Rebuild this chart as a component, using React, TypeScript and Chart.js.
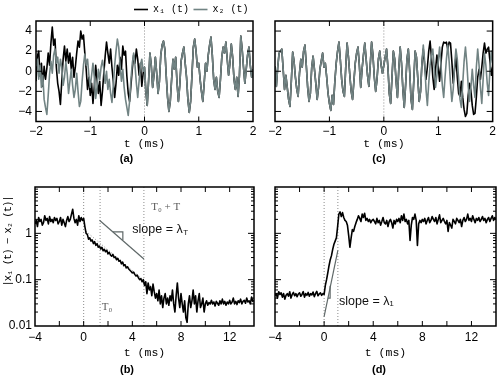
import React, { useEffect, useRef } from 'react';
import { Chart, registerables } from 'chart.js';
Chart.register(...registerables);

const SANS = '"Liberation Sans", Arial, Helvetica, sans-serif';
const MONO = '"Liberation Mono", "DejaVu Sans Mono", monospace';
const SERIF = '"Liberation Serif", "DejaVu Serif", serif';
const INK = '#000000';
const GRAY = '#718383';
const DOT = '#8c8c8c';
const GUIDE = '#5f6868';

// ---------- time bases ----------
const A_START = -2;
const A_STEP = 0.025;
const B_START = -4;
const B_STEP = 0.1;

// ---------- panel (a): x1 (black) and x2 (gray), t = -2 .. 2 ms ----------
const aX1 = [
  -1.0, 1.5, 2.0, -0.5, 0.8, -1.5, 0.5, -0.8, 0.3, 1.8,
  0.6, 2.8, 4.4, 2.6, 3.2, 0.4, -1.2, -2.0, -3.3, -1.0,
  1.2, 2.5, 1.0, 2.2, 0.8, 1.8, 0.2, 1.4, -0.6, 0.4,
  1.8, 3.0, 2.4, 4.0, 3.2, 3.6, 1.8, 0.2, -1.8, -0.6,
  -2.4, -1.2, -3.2, -1.5, 0.6, -0.8, -2.2, -1.0, -3.4, -2.0,
  -0.2, 1.5, 2.9, 1.8, 0.8, 2.2, 0.4, -1.0, -2.6, -1.2,
  0.6, -0.4, 1.4, 0.2, 2.5, 1.6, 2.0, -0.5, -2.2, -3.0,
  -1.4, 0.2, 1.6, 0.8, 2.2, 1.2, -0.4, 0.8, -1.5, -0.2,
  0.4, -2.0, -3.4, -1.0, 1.8, 0.6, -1.6, -0.4, 1.4, -0.2,
  -2.2, -1.0, 1.6, 2.6, 3.0, 2.2, -0.4, -2.6, -4.0, -3.0,
  -0.8, 1.2, 0.2, 1.4, -1.2, -3.0, -1.4, 1.0, 1.8, 2.4,
  0.8, -0.6, -2.8, -4.1, -3.0, -0.4, 2.4, 3.2, 2.0, 0.4,
  0.8, -0.8, -2.0, -3.0, -1.2, 0.8, 0.0, 1.6, 2.6, 3.4,
  1.6, -0.8, -1.8, -0.6, -2.0, -2.6, -0.8, 1.4, 2.4, 1.8,
  2.9, 1.2, -0.4, 0.8, 2.7, 1.4, -0.8, -1.8, -0.6, -2.5,
  -0.4, 3.5, 2.2, 0.4, -1.2, 0.2, 1.6, 2.4, 0.6, -0.6,
  0.2,
];
// x2 before t = 0 (after t = 0 it follows x1: synchronised)
const aX2Pre = [
  0.5, 1.2, -0.8, 0.6, -1.6, -0.4, -2.8, -3.6, -4.3, -2.4,
  -0.3, 1.0, -0.2, 1.6, 2.2, 0.8, 1.4, -0.2, 1.2, 0.4,
  -1.4, -0.6, 0.9, -0.2, -2.2, -1.0, 0.2, -1.4, -2.6, -1.8,
  -0.2, -2.0, -3.5, -3.0, -1.0, 0.6, 1.7, 0.6, 1.2, -0.4,
  -1.6, -0.4, 0.8, -0.6, -2.7, -1.6, 0.2, -0.8, 0.4, 1.1,
  0.2, -1.2, 0.0, -1.8, -0.8, -2.2, -3.1, -1.4, 0.6, 2.0,
  3.2, 2.4, 0.6, -1.0, 0.2, -1.6, -2.8, -3.6, -4.4, -3.0,
  -0.8, 0.8, 1.8, 0.6, -1.2, -2.6, -1.0, 0.6, 1.2, 0.0,
];

// ---------- panel (c): x2 (gray) full, x1 (black) diverges after ~0.7 ms ----------
const cX2 = [
  0.5, -1.5, 0.4, 1.8, 2.0, 2.2, 0.2, -1.8, -0.4, -1.6,
  -2.8, -3.5, -1.0, 1.9, 1.0, -0.6, -1.8, -2.5, -0.2, 1.2,
  0.4, 2.0, 2.6, 0.6, -1.6, -3.0, -2.2, 0.4, 1.5, 0.2,
  -1.2, -2.8, -1.6, 0.2, 1.0, 1.8, 0.4, 0.8, -0.6, -2.2,
  -3.2, -3.9, -2.4, -3.3, -1.0, 0.8, 2.0, 2.9, 1.2, -0.8,
  -2.0, -2.5, 0.4, 2.8, 1.4, -0.4, -2.0, -2.8, -1.0, 0.8,
  1.8, 2.4, 0.6, -1.6, 0.2, 1.6, 2.8, 1.2, -0.4, -1.5,
  0.6, 2.9, 1.6, -0.6, -2.0, -0.8, 1.2, 2.0, 0.6, -0.2,
  0.6, 1.4, 2.2, 0.4, -2.2, -3.2, -0.6, 2.0, 1.2, -1.0,
  -2.6, 0.2, 2.4, 0.8, -1.8, -3.6, -1.4, 1.2, 2.2, 0.0,
  -2.8, -3.8, -1.0, 2.0, 1.4, -0.8, -3.0, -2.0, 0.8, 2.6,
  1.0, -1.8, -3.4, -1.2, 0.6, 1.6, 2.2, 0.4, -1.6, -0.4,
  1.0, 2.4, 0.6, -1.4, -2.6, -0.6, 1.2, 2.6, 1.0, -1.2,
  -3.0, -1.8, 0.6, 2.2, 1.2, -0.8, -2.8, -3.6, -1.2, 1.0,
  2.4, 0.8, -1.4, -3.0, -1.6, 0.2, -1.4, -2.6, 0.4, 2.2,
  0.6, -1.6, -3.2, -0.8, 1.8, 0.6, -1.2, -2.4, 0.2, 2.0,
  0.8,
];
const C_SPLIT = 109; // index of t = 0.725 ms, where x1 leaves x2
const cX1Tail = [
  2.2, 0.6, -0.8, 0.4, 2.0, 3.0, 1.4, -0.6, -1.8, 0.2,
  1.6, 0.4, -1.0, 0.8, 2.4, 2.9, 2.8, 2.9, 2.2, 2.9,
  2.8, 1.0, -1.2, 0.2, 1.4, -0.6, -2.2, -2.5, -1.0, -2.6,
  -3.8, -4.5, -4.2, -2.4, -1.2, -1.9, -3.4, -4.3, -4.2, -2.6,
  -0.6, 0.2, -0.8, 0.4, 1.8, 2.8, 1.8, 2.2, 2.4, 1.0,
  -0.4, 0.4,
];

// ---------- panel (b): |x1 - x2|, t = -4 .. 14 ms ----------
const bDiff = [
  1.6, 1.9, 1.4, 2.2, 1.8, 2.0, 1.5, 1.7, 2.4, 1.9,
  2.1, 1.6, 2.3, 1.8, 2.0, 1.7, 2.2, 1.9, 2.1, 1.6,
  1.8, 2.2, 1.5, 2.0, 1.7, 1.4, 1.9, 2.3, 1.8, 2.0,
  2.6, 3.3, 2.1, 1.7, 2.0, 1.5, 2.4, 1.8, 2.2, 1.9,
  2.1, 1.4, 1.0, 0.95, 0.75, 0.8, 0.68, 0.72, 0.6, 0.66,
  0.55, 0.6, 0.5, 0.53, 0.46, 0.5, 0.42, 0.45, 0.4, 0.43,
  0.36, 0.39, 0.34, 0.32, 0.35, 0.3, 0.31, 0.27, 0.29, 0.25,
  0.26, 0.22, 0.24, 0.2, 0.21, 0.18, 0.19, 0.17, 0.16, 0.15,
  0.14, 0.145, 0.13, 0.12, 0.125, 0.11, 0.1, 0.105, 0.09, 0.1,
  0.075, 0.09, 0.05, 0.085, 0.06, 0.07, 0.045, 0.08, 0.055, 0.04,
  0.05, 0.035, 0.06, 0.03, 0.045, 0.025, 0.04, 0.05, 0.03, 0.04,
  0.028, 0.045, 0.035, 0.06, 0.03, 0.02, 0.045, 0.085, 0.04, 0.025,
  0.05, 0.03, 0.02, 0.035, 0.015, 0.012, 0.03, 0.045, 0.025, 0.035,
  0.06, 0.03, 0.045, 0.02, 0.035, 0.05, 0.025, 0.03, 0.04, 0.02,
  0.03, 0.035, 0.028, 0.032, 0.03, 0.036, 0.03, 0.033, 0.027, 0.034,
  0.031, 0.028, 0.035, 0.03, 0.038, 0.03, 0.034, 0.028, 0.033, 0.03,
  0.036, 0.03, 0.033, 0.04, 0.03, 0.034, 0.029, 0.035, 0.032, 0.038,
  0.03, 0.034, 0.036, 0.031, 0.04, 0.033, 0.035, 0.03, 0.042, 0.034,
  0.036,
];

// ---------- panel (d): |x1 - x2|, t = -4 .. 14 ms ----------
const dDiff = [
  0.045, 0.05, 0.04, 0.055, 0.048, 0.052, 0.042, 0.05, 0.038, 0.046,
  0.05, 0.044, 0.055, 0.04, 0.048, 0.053, 0.045, 0.05, 0.043, 0.049,
  0.052, 0.044, 0.048, 0.055, 0.042, 0.05, 0.046, 0.053, 0.044, 0.05,
  0.047, 0.054, 0.043, 0.05, 0.056, 0.045, 0.049, 0.052, 0.046, 0.05,
  0.048, 0.075, 0.1, 0.14, 0.2, 0.27, 0.33, 0.45, 0.58, 0.68,
  0.8, 1.4, 2.6, 2.9, 2.3, 2.8, 2.2, 1.9, 1.8, 1.5,
  0.9, 0.5, 0.8, 1.2, 1.1, 1.4, 1.7, 2.0, 2.4, 2.1,
  1.8, 2.6, 2.2, 2.7, 1.9, 2.1, 1.8, 2.0, 1.7, 1.9,
  2.0, 1.8, 1.6, 2.1, 1.7, 1.9, 1.5, 1.8, 2.2, 1.7,
  1.6, 1.9, 1.4, 1.8, 2.0, 1.7, 1.3, 1.9, 1.6, 2.0,
  1.8, 2.1, 1.7, 2.4, 1.9, 2.6, 1.8, 2.0, 1.6, 1.9,
  0.7, 1.5, 2.2, 2.0, 2.6, 1.9, 0.55, 1.6, 1.9, 1.7,
  2.0, 1.8, 2.1, 1.6, 1.9, 2.2, 1.7, 1.9, 2.3, 2.0,
  1.8, 2.2, 1.6, 2.0, 2.5, 1.7, 1.9, 2.1, 1.8, 1.6,
  1.9, 1.1, 1.7, 1.5, 1.3, 2.0, 1.8, 1.6, 2.1, 1.9,
  1.7, 2.0, 1.4, 1.9, 2.2, 1.8, 2.0, 2.6, 1.9, 2.1,
  1.8, 2.4, 2.0, 1.7, 2.1, 1.9, 2.2, 1.8, 2.0, 2.3,
  1.9, 2.1, 1.7, 2.0, 2.2, 1.8, 2.1, 2.4, 1.9, 2.2,
  2.0,
];

// ---------- ticks, markers, guides ----------
const aXTicks = [-2, -1, 0, 1, 2];
const aYTicks = [-4, -2, 0, 2, 4];
const bXTicks = [-4, -2, 0, 2, 4, 6, 8, 10, 12];
const bXLabelled = [-4, 0, 4, 8, 12];
const bYTicks = [0.01, 0.1, 1];
const A_RANGE = [-5, 5];
const B_RANGE = [0.01, 10];
const aMarkers = [0];
const bMarkers = [0, 1.35, 4.95]; // 0, T0, T0 + T
const dMarkers = [0, 1.12];
const bFitLine = [[0.2, 1.1], [5.7, 0.066]];
const bSlopeLine = [[1.3, 1.92], [4.95, 0.28]];
const bSlopeMark = [[2.4, 1.07], [3.22, 1.07], [3.22, 0.715]];
const dSlopeLine = [[0, 0.016], [1.12, 0.43]];
const dSlopeMark = [[0.3, 0.04], [0.49, 0.04], [0.49, 0.074]];

const tA = aX1.map((_, i) => A_START + i * A_STEP);
const tB = bDiff.map((_, i) => B_START + i * B_STEP);
const aX2 = aX2Pre.concat(aX1.slice(aX2Pre.length));
const cX1 = cX2.slice(0, C_SPLIT).concat(cX1Tail);

const pts = (ts: number[], vs: number[]) => vs.map((v, i) => ({ x: ts[i], y: v }));
const pairs = (p: number[][]) => p.map(([x, y]) => ({ x, y }));
const fmt = (v: number) => String(v).replace('-', '\u2212');

const series = (label: string, data: any[], color: string, order: number) => ({
  label, data, borderColor: color, backgroundColor: color, borderWidth: 1.6,
  pointRadius: 0, tension: 0, order, borderJoinStyle: 'round' as const,
});
const vlines = (ms: number[], range: number[]) => ms.map((m) => ({
  label: '', data: [{ x: m, y: range[0] }, { x: m, y: range[1] }],
  borderColor: DOT, borderWidth: 1, borderDash: [1, 2], pointRadius: 0, order: 5,
}));
const guide = (p: number[][], dash?: number[]) => ({
  label: '', data: pairs(p), borderColor: dash ? DOT : GUIDE, borderWidth: dash ? 1 : 1.2,
  borderDash: dash || [], pointRadius: 0, order: 4,
});

function framePlugin(key: string) {
  return {
    id: 'frame_' + key,
    afterDatasetsDraw(chart: any) {
      const { ctx, chartArea: ca, scales } = chart;
      const xs = scales.x, ys = scales.y;
      ctx.save();
      ctx.strokeStyle = INK;
      ctx.lineWidth = 1;
      ctx.beginPath();
      for (const t of xs.ticks) {
        const p = xs.getPixelForValue(t.value);
        if (p <= ca.left + 1 || p >= ca.right - 1) continue;
        ctx.moveTo(p, ca.bottom); ctx.lineTo(p, ca.bottom - 5);
        ctx.moveTo(p, ca.top); ctx.lineTo(p, ca.top + 5);
      }
      for (const t of ys.ticks) {
        const p = ys.getPixelForValue(t.value);
        if (p <= ca.top + 1 || p >= ca.bottom - 1) continue;
        ctx.moveTo(ca.left, p); ctx.lineTo(ca.left + 6, p);
        ctx.moveTo(ca.right, p); ctx.lineTo(ca.right - 6, p);
      }
      if (ys.type === 'logarithmic') {
        for (let e = -3; e <= 2; e++) {
          for (let m = 2; m <= 9; m++) {
            const v = m * Math.pow(10, e);
            if (v <= ys.min || v >= ys.max) continue;
            const p = ys.getPixelForValue(v);
            ctx.moveTo(ca.left, p); ctx.lineTo(ca.left + 3, p);
            ctx.moveTo(ca.right, p); ctx.lineTo(ca.right - 3, p);
          }
        }
      }
      ctx.stroke();
      ctx.lineWidth = 1.5;
      ctx.strokeRect(ca.left, ca.top, ca.right - ca.left, ca.bottom - ca.top);
      ctx.restore();
    },
  };
}

function notesPlugin(s: any) {
  return {
    id: 'notes_' + s.key,
    afterDatasetsDraw(chart: any) {
      const { ctx, chartArea, scales } = chart;
      ctx.save();
      for (const n of s.notes || []) {
        const px = scales.x.getPixelForValue(n.x);
        const py = scales.y.getPixelForValue(n.y);
        ctx.font = n.font;
        ctx.fillStyle = n.color;
        ctx.textAlign = 'left';
        ctx.textBaseline = 'middle';
        ctx.fillText(n.text, px, py);
        if (n.sub) {
          const w = ctx.measureText(n.text).width;
          ctx.font = n.subFont;
          ctx.fillText(n.sub, px + w + 0.5, py + 3);
        }
      }
      if (s.yTitle) {
        ctx.translate(s.yTitle.x, chartArea.top + s.yTitle.dy);
        ctx.rotate(-Math.PI / 2);
        ctx.font = s.yTitle.font;
        ctx.fillStyle = INK;
        ctx.textAlign = 'center';
        ctx.textBaseline = 'middle';
        (ctx as any).letterSpacing = s.yTitle.spacing;
        ctx.fillText(s.yTitle.text, 0, 0);
      }
      ctx.restore();
    },
  };
}

function buildConfig(s: any): any {
  return {
    type: 'line',
    data: { datasets: s.datasets },
    options: {
      responsive: false,
      animation: false,
      events: [],
      layout: { padding: s.padding, autoPadding: false },
      scales: {
        x: {
          type: 'linear', min: s.xRange[0], max: s.xRange[1],
          grid: { display: false, drawTicks: false }, border: { display: false },
          afterBuildTicks: (sc: any) => { sc.ticks = s.xTicks.map((v: number) => ({ value: v })); },
          afterFit: (sc: any) => { sc.height = s.xHeight; },
          ticks: {
            autoSkip: false, maxRotation: 0, padding: s.tickPad, color: INK,
            font: { family: SANS, size: 12 },
            callback: (v: number) => (s.xLabelled.includes(v) ? fmt(v) : ''),
          },
          title: {
            display: true, text: 't (ms)', color: INK, font: { family: MONO, size: 11.5 },
            padding: { top: 0, bottom: s.xTitlePad },
          },
        },
        y: {
          type: s.yType, min: s.yRange[0], max: s.yRange[1],
          grid: { display: false, drawTicks: false }, border: { display: false },
          afterBuildTicks: (sc: any) => { sc.ticks = s.yTicks.map((v: number) => ({ value: v })); },
          afterFit: (sc: any) => { sc.width = s.yWidth; },
          ticks: {
            display: s.showYLabels, autoSkip: false, padding: s.yTickPad, color: INK,
            font: { family: SANS, size: 12 },
            callback: (v: number) => fmt(v),
          },
        },
      },
      plugins: {
        tooltip: { enabled: false },
        legend: s.legend
          ? {
              display: true, position: 'top', align: 'end', maxHeight: 21,
              labels: {
                usePointStyle: true, pointStyle: 'line', pointStyleWidth: 14, padding: 4.5,
                color: INK, font: { family: MONO, size: 10 },
                filter: (it: any) => it.text.startsWith('x'),
                sort: (p: any, q: any) => (p.text < q.text ? -1 : 1),
              },
            }
          : { display: false },
        title: {
          display: true, position: 'bottom', text: s.caption, color: INK,
          font: { family: SANS, size: 11, weight: 'bold' }, padding: s.captionPad,
        },
      },
    },
    plugins: [framePlugin(s.key), notesPlugin(s)],
  };
}

const specA = {
  key: 'a', left: 0, top: 0, width: 262, height: 170,
  padding: { left: 0, right: 9, top: 0, bottom: 0 }, yWidth: 36, xHeight: 29.3,
  xRange: [-2, 2], yType: 'linear', yRange: A_RANGE, xTicks: aXTicks, xLabelled: aXTicks,
  yTicks: aYTicks, showYLabels: true, tickPad: 3, yTickPad: 4, xTitlePad: 0,
  caption: '(a)', captionPad: { top: 2, bottom: 4 }, legend: true,
  datasets: [
    series('x\u2082 (t)', pts(tA, aX2), GRAY, 0),
    series('x\u2081 (t)', pts(tA, aX1), INK, 1),
    ...vlines(aMarkers, A_RANGE),
  ],
};

const specC = {
  key: 'c', left: 262, top: 0, width: 237, height: 170,
  padding: { left: 0, right: 3, top: 21, bottom: 0 }, yWidth: 13, xHeight: 29.3,
  xRange: [-2, 2], yType: 'linear', yRange: A_RANGE, xTicks: aXTicks, xLabelled: aXTicks,
  yTicks: aYTicks, showYLabels: false, tickPad: 3, yTickPad: 4, xTitlePad: 0,
  caption: '(c)', captionPad: { top: 2, bottom: 4 }, legend: false,
  datasets: [
    series('x\u2082 (t)', pts(tA, cX2), GRAY, 0),
    series('x\u2081 (t)', pts(tA, cX1), INK, 1),
    ...vlines(aMarkers, A_RANGE),
  ],
};

const specB = {
  key: 'b', left: 0, top: 170, width: 262, height: 207,
  padding: { left: 0, right: 8, top: 17, bottom: 0 }, yWidth: 35, xHeight: 35.8,
  xRange: [-4, 14], yType: 'logarithmic', yRange: B_RANGE, xTicks: bXTicks, xLabelled: bXLabelled,
  yTicks: bYTicks, showYLabels: true, tickPad: 4, yTickPad: 3, xTitlePad: 2.2,
  caption: '(b)', captionPad: { top: 2, bottom: 0 }, legend: false,
  datasets: [
    series('|x\u2081 \u2212 x\u2082|', pts(tB, bDiff), INK, 0),
    guide(bSlopeLine),
    guide(bSlopeMark),
    guide(bFitLine, [1, 2]),
    ...vlines(bMarkers, B_RANGE),
  ],
  notes: [
    { x: 5.55, y: 3.68, text: 'T\u2080 + T', font: `11px ${SERIF}`, color: '#5a5a5a' },
    { x: 4.0, y: 1.22, text: 'slope = \u03bb', sub: 'T', font: `12.5px ${SANS}`, subFont: `8px ${SANS}`, color: '#111' },
    { x: 1.48, y: 0.026, text: 'T\u2080', font: `11px ${SERIF}`, color: '#5a5a5a' },
  ],
  yTitle: { text: '|x\u2081 (t) \u2212 x\u2082 (t)|', x: 8, dy: 54.5, font: `10.5px ${MONO}`, spacing: '-1px' },
};

const specD = {
  key: 'd', left: 262, top: 170, width: 237, height: 207,
  padding: { left: 0, right: 3, top: 17, bottom: 0 }, yWidth: 13, xHeight: 35.8,
  xRange: [-4, 14], yType: 'logarithmic', yRange: B_RANGE, xTicks: bXTicks, xLabelled: bXLabelled,
  yTicks: bYTicks, showYLabels: false, tickPad: 4, yTickPad: 3, xTitlePad: 2.2,
  caption: '(d)', captionPad: { top: 2, bottom: 0 }, legend: false,
  datasets: [
    series('|x\u2081 \u2212 x\u2082|', pts(tB, dDiff), INK, 0),
    guide(dSlopeLine),
    guide(dSlopeMark),
    ...vlines(dMarkers, B_RANGE),
  ],
  notes: [
    { x: 1.22, y: 0.034, text: 'slope = \u03bb\u2081', font: `12.5px ${SANS}`, color: '#111' },
  ],
};

function Panel({ spec }: { spec: any }) {
  const ref = useRef<HTMLCanvasElement>(null);
  useEffect(() => {
    const chart = new Chart(ref.current as HTMLCanvasElement, buildConfig(spec));
    return () => chart.destroy();
  }, [spec]);
  return (
    <canvas
      ref={ref}
      width={spec.width}
      height={spec.height}
      style={{ position: 'absolute', left: spec.left, top: spec.top, width: spec.width, height: spec.height }}
    />
  );
}

export default function App() {
  return (
    <div style={{ position: 'absolute', left: 0, top: 0, width: 499, height: 377, background: '#fff', overflow: 'hidden' }}>
      <Panel spec={specA} />
      <Panel spec={specC} />
      <Panel spec={specB} />
      <Panel spec={specD} />
    </div>
  );
}
